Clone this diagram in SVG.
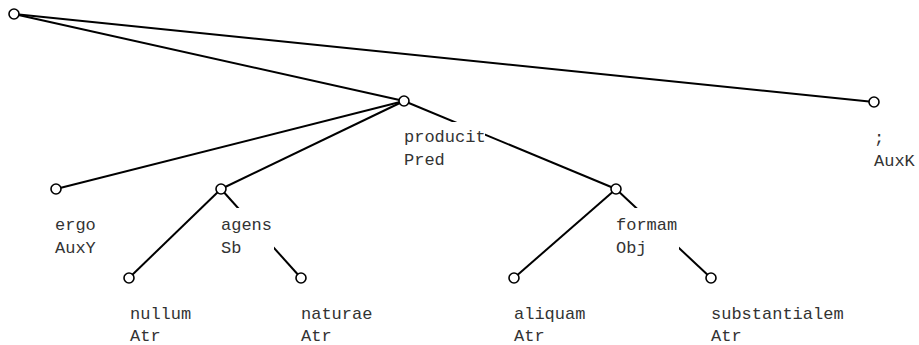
<svg xmlns="http://www.w3.org/2000/svg" width="919" height="345" viewBox="0 0 919 345">
<style>
.e{stroke:#000;stroke-width:2;fill:none}
.n{fill:#fff;stroke:#000;stroke-width:1.6}
.bg{fill:#fff}
text{font-family:"Liberation Mono","DejaVu Sans Mono",monospace;font-size:17px;fill:#333}
</style>
<rect width="919" height="345" fill="#fff"/>
<g id="edges">
<line class="e" x1="14" y1="14" x2="404" y2="101"/>
<line class="e" x1="14" y1="14" x2="874" y2="102"/>
<line class="e" x1="404" y1="101" x2="56" y2="189"/>
<line class="e" x1="404" y1="101" x2="221" y2="189"/>
<line class="e" x1="404" y1="101" x2="616" y2="189"/>
<line class="e" x1="221" y1="189" x2="129" y2="278"/>
<line class="e" x1="221" y1="189" x2="301" y2="278"/>
<line class="e" x1="616" y1="189" x2="514" y2="278"/>
<line class="e" x1="616" y1="189" x2="711" y2="278"/>
</g>
<g id="root"><circle class="n" cx="14" cy="14" r="5"/></g>
<g id="producit"><circle class="n" cx="404" cy="101" r="5"/><rect class="bg" x="402" y="122" width="83" height="50"/><text x="404" y="142">producit</text><text x="404" y="165">Pred</text></g>
<g id="semicolon"><circle class="n" cx="874" cy="102" r="5"/><rect class="bg" x="872" y="123" width="45" height="50"/><text x="874" y="143">;</text><text x="874" y="166">AuxK</text></g>
<g id="ergo"><circle class="n" cx="56" cy="189" r="5"/><rect class="bg" x="53" y="208" width="45" height="50"/><text x="55" y="230">ergo</text><text x="55" y="253">AuxY</text></g>
<g id="agens"><circle class="n" cx="221" cy="189" r="5"/><rect class="bg" x="219" y="208" width="55" height="50"/><text x="221" y="230">agens</text><text x="221" y="253">Sb</text></g>
<g id="formam"><circle class="n" cx="616" cy="189" r="5"/><rect class="bg" x="614" y="208" width="65" height="50"/><text x="616" y="230">formam</text><text x="616" y="253">Obj</text></g>
<g id="nullum"><circle class="n" cx="129" cy="278" r="5"/><text x="130" y="319">nullum</text><text x="130" y="341">Atr</text></g>
<g id="naturae"><circle class="n" cx="301" cy="278" r="5"/><text x="301" y="319">naturae</text><text x="301" y="341">Atr</text></g>
<g id="aliquam"><circle class="n" cx="514" cy="278" r="5"/><text x="514" y="319">aliquam</text><text x="514" y="341">Atr</text></g>
<g id="substantialem"><circle class="n" cx="711" cy="278" r="5"/><text x="711" y="319">substantialem</text><text x="711" y="341">Atr</text></g>
</svg>
